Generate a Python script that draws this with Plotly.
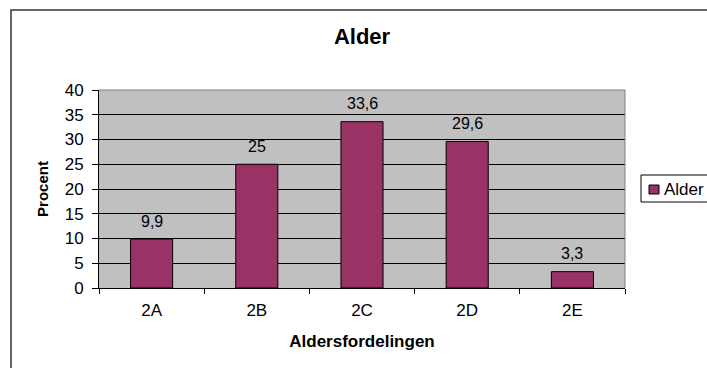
import plotly.graph_objects as go

# Age distribution per class
categories = ["2A", "2B", "2C", "2D", "2E"]
values = [9.9, 25, 33.6, 29.6, 3.3]
series_name = "Alder"
y_ticks = [0, 5, 10, 15, 20, 25, 30, 35, 40]

BAR = "#993366"
FONT = "Arial, Liberation Sans, sans-serif"

W, H = 707, 368
L, R, T, B = 99, 82, 90, 80
PW, PH = W - L - R, H - T - B


def px(x):
    return (x - L) / PW


def py(y):
    return (H - B - y) / PH


def fmt(v):
    return f"{v:g}".replace(".", ",")


fig = go.Figure()
fig.add_trace(go.Bar(
    x=categories, y=values, name=series_name,
    marker=dict(color=BAR, line=dict(color="black", width=1)),
    showlegend=False,
))

# value labels above each bar
for c, v in zip(categories, values):
    fig.add_annotation(x=c, y=v, text=fmt(v), showarrow=False,
                       xref="x", yref="y", yanchor="middle", yshift=18,
                       font=dict(family=FONT, size=16, color="black"))

shapes = [
    # outer chart frame
    dict(type="rect", xref="paper", yref="paper",
         x0=px(11), x1=px(760), y0=py(10), y1=py(400),
         line=dict(color="#333333", width=1.5), fillcolor="rgba(0,0,0,0)"),
    # plot-area border (top & right)
    dict(type="line", xref="paper", yref="paper", x0=0, x1=1, y0=1, y1=1,
         line=dict(color="#808080", width=1)),
    dict(type="line", xref="paper", yref="paper", x0=1, x1=1, y0=0, y1=1,
         line=dict(color="#808080", width=1)),
    # legend box
    dict(type="rect", xref="paper", yref="paper",
         x0=px(641), x1=px(740), y0=py(175), y1=py(202),
         line=dict(color="black", width=1), fillcolor="white"),
    # legend swatch
    dict(type="rect", xref="paper", yref="paper",
         x0=px(649), x1=px(659), y0=py(185), y1=py(194),
         line=dict(color="black", width=1), fillcolor=BAR),
]
fig.add_annotation(xref="paper", yref="paper", x=px(662), y=py(189.5),
                   xanchor="left", yanchor="middle", text=series_name,
                   showarrow=False, font=dict(family=FONT, size=17, color="black"))

fig.update_layout(
    width=W, height=H,
    margin=dict(l=L, r=R, t=T, b=B, pad=0),
    paper_bgcolor="white", plot_bgcolor="#C0C0C0",
    bargap=0.6,
    shapes=shapes,
    font=dict(family=FONT, color="black"),
    title=dict(text="<b>Alder</b>", x=px(362), xref="paper", xanchor="center",
               y=1 - 36 / H, yref="container", yanchor="middle",
               font=dict(family=FONT, size=22, color="black")),
    xaxis=dict(
        type="category", tickson="boundaries", ticks="outside", ticklen=5,
        tickcolor="black", showline=True, linecolor="black", linewidth=1,
        showgrid=False, tickfont=dict(family=FONT, size=17, color="black"),
        ticklabelstandoff=7,
        title=dict(text="<b>Aldersfordelingen</b>", standoff=15,
                   font=dict(family=FONT, size=17, color="black")),
    ),
    yaxis=dict(
        range=[0, 40], tickvals=y_ticks, ticks="outside", ticklen=6,
        tickcolor="black", showline=True, linecolor="black", linewidth=1,
        showgrid=True, gridcolor="black", gridwidth=1, zeroline=False,
        tickfont=dict(family=FONT, size=17, color="black"),
        ticklabelstandoff=5,
        title=dict(text="<b>Procent</b>", standoff=12,
                   font=dict(family=FONT, size=15, color="black")),
    ),
)

fig.write_html("out.html")
